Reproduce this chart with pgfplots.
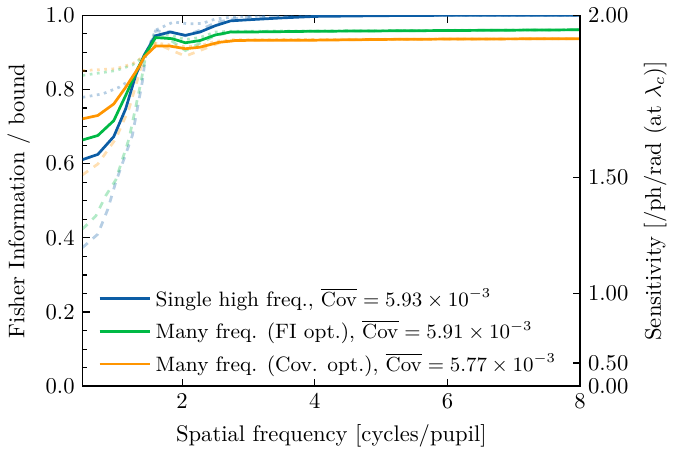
\documentclass[border=0pt]{standalone}
\usepackage{pgfplots}
\pgfplotsset{compat=1.18}

\definecolor{cblue}{HTML}{0C5DA5}
\definecolor{cgreen}{HTML}{00B945}
\definecolor{corange}{HTML}{FF9500}

\begin{document}
\begin{tikzpicture}
\pgfplotsset{
  every axis/.append style={
    width=220pt, height=164pt, scale only axis,
    xmin=0.5, xmax=8, ymin=0, ymax=1,
    tick align=inside,
    major tick length=3.2pt, minor tick length=1.8pt,
    every tick/.style={black, line width=0.5pt},
    axis line style={line width=0.7pt},
  },
}
\begin{axis}[
    xlabel={Spatial frequency [cycles/pupil]},
    ylabel={Fisher Information / bound},
    xtick={2,4,6,8},
    xtick pos=both,
    ytick={0,0.2,0.4,0.6,0.8,1.0},
    yticklabels={0.0,0.2,0.4,0.6,0.8,1.0},
    minor y tick num=3,
    ytick pos=left,
    legend style={at={(0.017,0.005)}, anchor=south west, draw=none, fill=none,
      font=\fontsize{9.2}{11}\selectfont, row sep=0.8pt},
    legend cell align=left,
    legend image code/.code={\draw[#1] (0cm,0cm) -- (0.78cm,0cm);},
]
% dashed (faint)
\addplot[cblue, opacity=0.3, dashed, line width=1.2pt, forget plot] coordinates {
 (0.5,0.374) (0.73,0.41) (0.88,0.477) (1.0,0.55) (1.25,0.676) (1.4,0.82) (1.45,0.89)
 (1.6,0.958) (1.85,0.955) (2.05,0.945) (2.27,0.96) (2.5,0.98) (2.75,0.99) (3.0,0.995)
 (3.5,0.998) (4,1.0) (8,1.0)};
\addplot[cgreen, opacity=0.3, dashed, line width=1.2pt, forget plot] coordinates {
 (0.5,0.424) (0.7,0.459) (0.85,0.514) (1.0,0.556) (1.2,0.667) (1.38,0.82) (1.45,0.89)
 (1.6,0.953) (1.85,0.93) (2.05,0.905) (2.27,0.925) (2.5,0.945) (2.75,0.955) (3.0,0.956)
 (4,0.957) (8,0.961)};
\addplot[corange, opacity=0.3, dashed, line width=1.2pt, forget plot] coordinates {
 (0.5,0.57) (0.73,0.599) (1.0,0.667) (1.2,0.748) (1.43,0.89) (1.6,0.925) (1.85,0.905)
 (2.05,0.89) (2.27,0.905) (2.55,0.925) (2.8,0.932) (3.2,0.933) (8,0.937)};
% dotted (faint)
\addplot[cblue, opacity=0.3, dotted, line width=1.2pt, forget plot] coordinates {
 (0.5,0.779) (0.8,0.788) (1.05,0.806) (1.25,0.829) (1.43,0.885) (1.6,0.96) (1.87,0.982)
 (2.1,0.977) (2.3,0.978) (2.5,0.99) (2.75,0.995) (3.0,0.997) (4,1.0) (8,1.0)};
\addplot[cgreen, opacity=0.3, dotted, line width=1.2pt, forget plot] coordinates {
 (0.5,0.838) (1.0,0.851) (1.25,0.866) (1.43,0.89) (1.6,0.95) (1.85,0.945) (2.05,0.935)
 (2.27,0.94) (2.5,0.955) (2.75,0.957) (4,0.958) (8,0.961)};
\addplot[corange, opacity=0.3, dotted, line width=1.2pt, forget plot] coordinates {
 (0.5,0.851) (1.0,0.856) (1.25,0.869) (1.43,0.89) (1.6,0.925) (1.85,0.92) (2.05,0.915)
 (2.27,0.918) (2.5,0.93) (2.75,0.934) (4,0.935) (8,0.937)};
% solid
\addplot[cblue, line width=1.2pt] coordinates {
 (0.5,0.611) (0.73,0.625) (0.97,0.673) (1.15,0.748) (1.3,0.838) (1.43,0.893) (1.6,0.945)
 (1.82,0.955) (2.05,0.946) (2.27,0.955) (2.5,0.972) (2.73,0.985) (3.0,0.988) (3.5,0.993)
 (4.0,0.997) (5,0.999) (6,1.0) (8,1.0)};
\addlegendentry{Single high freq., $\overline{\mathrm{Cov}} = 5.93 \times 10^{-3}$}
\addplot[cgreen, line width=1.2pt] coordinates {
 (0.5,0.664) (0.73,0.676) (0.97,0.716) (1.15,0.784) (1.33,0.856) (1.43,0.89) (1.6,0.94)
 (1.85,0.937) (2.05,0.926) (2.27,0.932) (2.5,0.947) (2.73,0.955) (3.0,0.955) (4,0.957)
 (5,0.958) (6,0.959) (8,0.961)};
\addlegendentry{Many freq. (FI opt.), $\overline{\mathrm{Cov}} = 5.91 \times 10^{-3}$}
\addplot[corange, line width=1.2pt] coordinates {
 (0.5,0.721) (0.73,0.73) (0.97,0.761) (1.15,0.806) (1.35,0.861) (1.43,0.888) (1.6,0.917)
 (1.82,0.917) (2.05,0.91) (2.27,0.914) (2.55,0.927) (2.8,0.932) (3.2,0.933) (4,0.933)
 (5,0.935) (6,0.936) (8,0.937)};
\addlegendentry{Many freq. (Cov. opt.), $\overline{\mathrm{Cov}} = 5.77 \times 10^{-3}$}
\end{axis}
\begin{axis}[
    axis y line*=right,
    axis x line=none,
    ytick={0,0.0625,0.25,0.5625,1},
    yticklabels={0.00,0.50,1.00,1.50,2.00},
    ylabel={Sensitivity [/ph/rad (at $\lambda_c$)]},
]
\addplot[draw=none] coordinates {(1,0)};
\end{axis}
\end{tikzpicture}
\end{document}
